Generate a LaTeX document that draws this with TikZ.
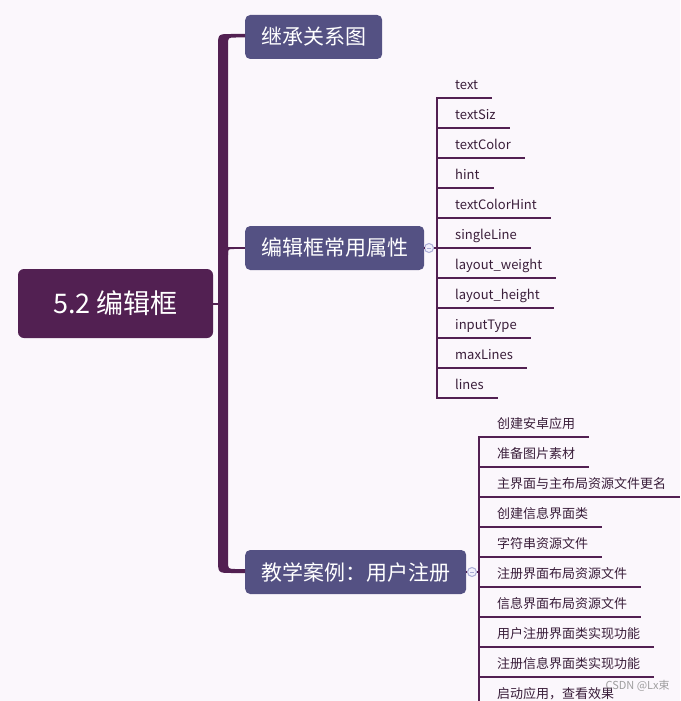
\documentclass[tikz,border=0pt]{standalone}
\usepackage{fontspec}
\setmainfont{Noto Sans CJK SC}
\usetikzlibrary{positioning, calc}
\definecolor{mapbg}{RGB}{251,247,252}
\definecolor{rootpurple}{RGB}{82,32,82}
\definecolor{topicblue}{RGB}{84,81,131}
\definecolor{leafink}{RGB}{58,30,58}
\definecolor{foldring}{RGB}{170,172,214}
\definecolor{foldfill}{RGB}{242,240,252}
\tikzset{
    root/.style={rounded corners=6pt, fill=rootpurple, text=white, minimum width=195pt, minimum height=69pt, font=\fontsize{27}{30}\selectfont},
    topic/.style={rounded corners=5pt, fill=topicblue, text=white, anchor=west, inner xsep=16pt, minimum height=44pt, font=\fontsize{21}{24}\selectfont},
    leaf/.style={anchor=south west, inner xsep=0pt, inner ysep=8pt, text depth=0pt, text=leafink, font=\fontsize{13}{15}\selectfont},
    twig/.style={draw=rootpurple, line width=2pt, line cap=rect},
    stem/.style={draw=rootpurple, line width=1.2pt},
    fold/.style={circle, draw=foldring, fill=foldfill, line width=1pt, minimum size=9pt, inner sep=0pt,
        path picture={\draw[foldring, line width=0.8pt] ([xshift=-2.2pt]path picture bounding box.center) -- ([xshift=2.2pt]path picture bounding box.center);}}
}

\begin{document}
\begin{tikzpicture}[x=1pt, y=-1pt]
        \fill[mapbg] (0,0) rectangle (680,701);
        \clip (0,0) rectangle (680,701);

        \node[root] (editbox) at (115.5,303.5) {5.2 编辑框};
        \node[topic] (tree) at (245,37) {继承关系图};
        \node[topic] (attrs) at (245,248) {编辑框常用属性};
        \node[topic] (demo) at (245,572) {教学案例：用户注册};

        \coordinate (spine) at (223,304);
        \fill[rootpurple] (245,34) -- (231,34) .. controls (218,34) .. (218,47) -- (218,559)
            .. controls (218,573) .. (232,573) -- (245,573) -- (245,569) -- (236,569)
            .. controls (228,569) .. (228,561) -- (228,45) .. controls (228,37.5) .. (236,37.5) -- (245,37.5) -- cycle;
        \fill[rootpurple] (228,249) -- (234,249) .. controls (228,249) .. (228,255) -- cycle;
        \draw[twig, line cap=butt] (spine |- attrs.west) -- (attrs.west);
        \draw[twig, line cap=butt] (editbox.east) -- (editbox.east -| spine);

        \node[fold] (fold2) at (429,248) {};
        \coordinate (p2) at (437,248);
        \draw[stem] (attrs.east) -- (fold2.west);
        \draw[stem] (fold2.east) -- (p2);
        \foreach \attr [count=\i] in {text, textSiz, textColor, hint, textColorHint, singleLine, layout\_weight, layout\_height, inputType, maxLines, lines} {
            \node[leaf] (a\i) at (455, 68+30*\i) {\attr};
            \draw[twig] (a\i.south west -| p2) -- ([xshift=13pt]a\i.south east);
        }
        \draw[twig] (a1.south west -| p2) -- (a11.south west -| p2);

        \node[fold] (fold3) at (472,572) {};
        \coordinate (p3) at (479,572);
        \draw[stem] (demo.east) -- (fold3.west);
        \draw[stem] (fold3.east) -- (p3);
        \foreach \task [count=\i] in {创建安卓应用, 准备图片素材, 主界面与主布局资源文件更名, 创建信息界面类, 字符串资源文件, 注册界面布局资源文件, 信息界面布局资源文件, 用户注册界面类实现功能, 注册信息界面类实现功能, 启动应用，查看效果} {
            \node[leaf] (c\i) at (497, 407+30*\i) {\task};
            \draw[twig] (c\i.south west -| p3) -- ([xshift=13pt]c\i.south east);
        }
        \draw[twig] (c1.south west -| p3) -- (c10.south west -| p3);

        \node[anchor=west, text=gray, text opacity=0.75, font=\fontsize{11}{12}\selectfont] (mark) at (602,686) {CSDN @Lx束};
    \end{tikzpicture}
\end{document}
